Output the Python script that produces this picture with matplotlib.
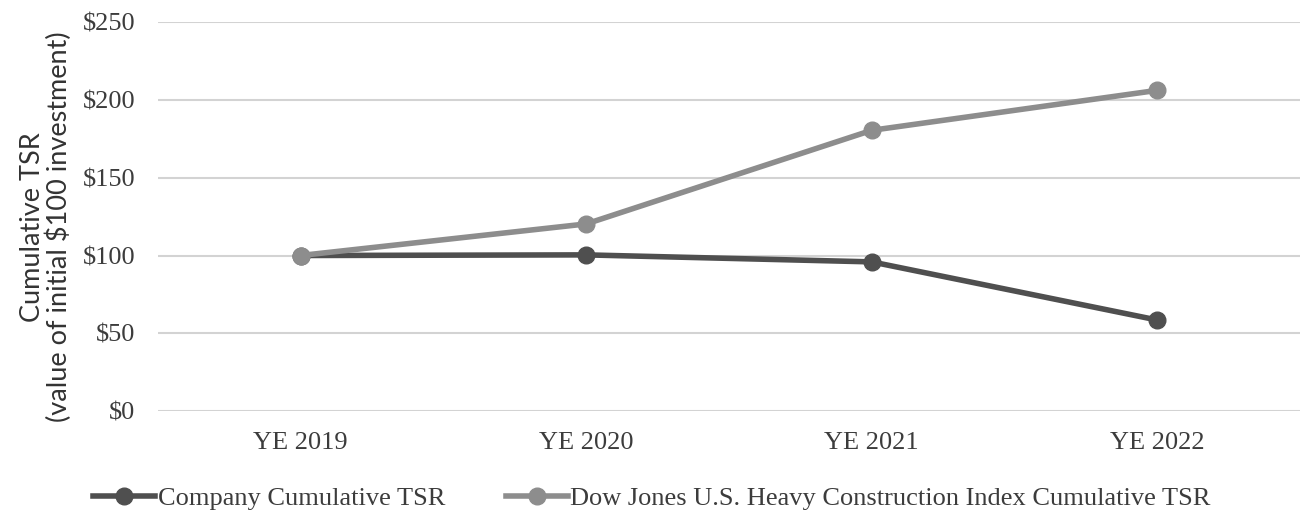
import matplotlib.pyplot as plt

# --- Data ---
years = ["YE 2019", "YE 2020", "YE 2021", "YE 2022"]
company_tsr = [100, 100.4, 95.9, 58.5]
dj_heavy_construction_tsr = [100, 120.3, 180.5, 206.2]
y_ticks = [0, 50, 100, 150, 200, 250]

COLOR_COMPANY = "#4f4f4f"
COLOR_INDEX = "#8d8d8d"
GRID_COLOR = "#d3d3d3"
TEXT_COLOR = "#3c3c3c"
SERIF = "Liberation Serif"

fig = plt.figure(figsize=(13.04, 5.17), dpi=100)
ax = fig.add_axes([0.121, 0.205, 0.876, 0.752])

x = range(len(years))
ax.plot(x, company_tsr, color=COLOR_COMPANY, lw=4, marker="o", ms=12,
        label="Company Cumulative TSR", zorder=3)
ax.plot(x, dj_heavy_construction_tsr, color=COLOR_INDEX, lw=4, marker="o", ms=12,
        label="Dow Jones U.S. Heavy Construction Index Cumulative TSR", zorder=3)

ax.set_xlim(-0.5, len(years) - 0.5)
ax.set_ylim(0, 250)
ax.set_yticks(y_ticks)
ax.set_yticklabels([f"${v}" for v in y_ticks], family=SERIF,
                   fontsize=19, color=TEXT_COLOR)
ax.set_xticks(list(x))
ax.set_xticklabels(years, family=SERIF, fontsize=19, color=TEXT_COLOR)
ax.tick_params(length=0)
ax.tick_params(axis="y", pad=16)
ax.tick_params(axis="x", pad=15)

ax.grid(axis="y", color=GRID_COLOR, lw=1.5, zorder=0)
for s in ax.spines.values():
    s.set_visible(False)

ax.set_ylabel("Cumulative TSR\n(value of initial $100 investment)",
              family="Lato", fontsize=19.5, color="#333333", linespacing=1.05)
ax.yaxis.set_label_coords(-0.075, 0.473)

fig.legend(*ax.get_legend_handles_labels(), loc="center",
           bbox_to_anchor=(0.5, 0.036), ncol=2, frameon=False,
           handlelength=2.35, columnspacing=2.3, handletextpad=0.1,
           prop={"family": SERIF, "size": 19}, labelcolor=TEXT_COLOR)

fig.savefig("out.png", dpi=100)
